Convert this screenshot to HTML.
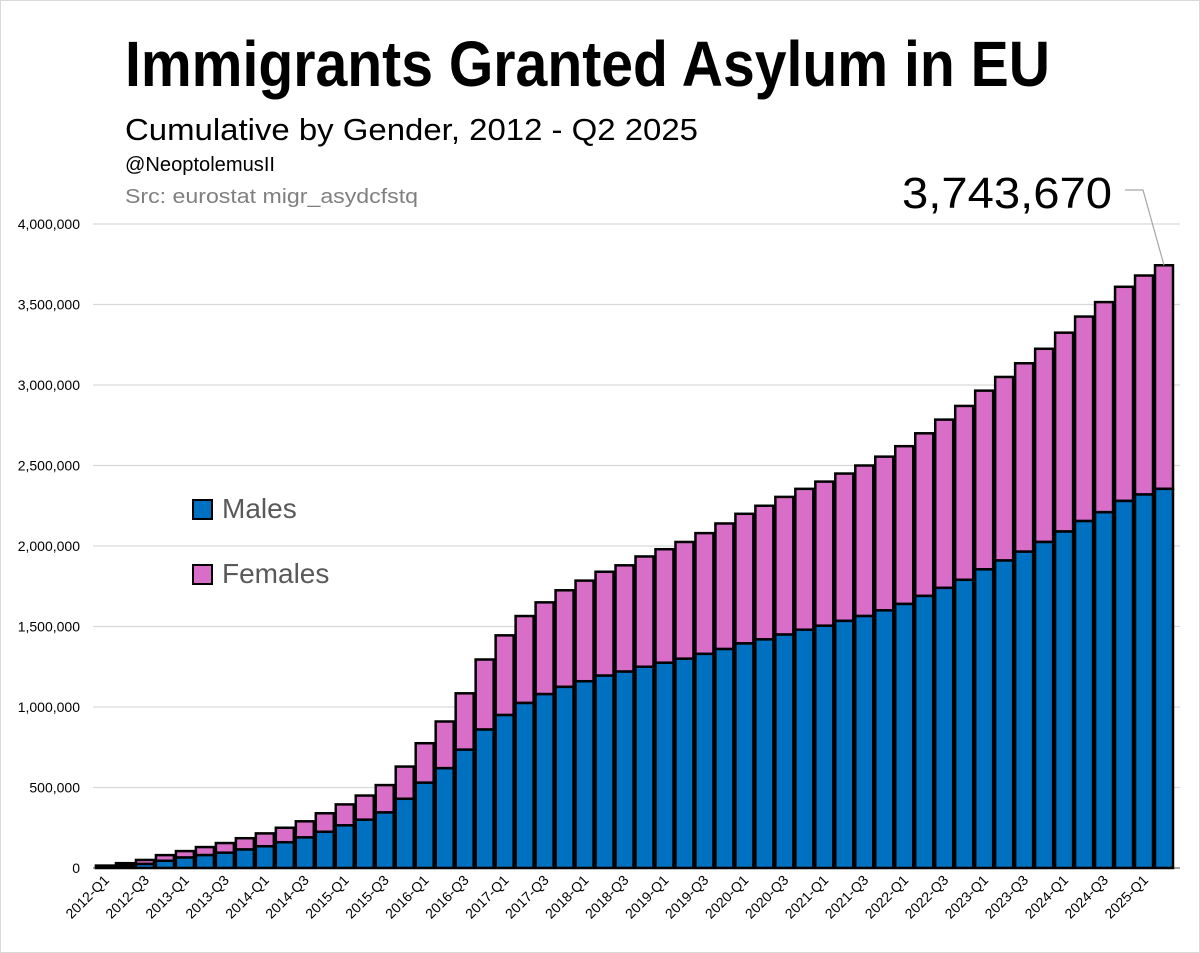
<!DOCTYPE html>
<html><head><meta charset="utf-8">
<style>
html,body{margin:0;padding:0;background:#fff;}
svg{display:block;font-family:"Liberation Sans",sans-serif;}
</style></head>
<body>
<svg id="chart" width="1200" height="953" viewBox="0 0 1200 953">
  <rect x="0.5" y="0.5" width="1199" height="952" fill="#fff" stroke="#d9d9d9"/>
  <text x="125" y="86" font-size="64" font-weight="bold" fill="#000" textLength="925" lengthAdjust="spacingAndGlyphs">Immigrants Granted Asylum in EU</text>
  <text x="125" y="140" font-size="31" fill="#000" textLength="573" lengthAdjust="spacingAndGlyphs">Cumulative by Gender, 2012 - Q2 2025</text>
  <text x="125" y="171" font-size="20" fill="#000" textLength="150" lengthAdjust="spacingAndGlyphs">@NeoptolemusII</text>
  <text x="125" y="203" font-size="20" fill="#808080" textLength="293" lengthAdjust="spacingAndGlyphs">Src: eurostat migr_asydcfstq</text>
  <g id="grid"></g>
  <g id="bars"></g>
  <g id="xlabels"></g>
  <g id="ylabels"></g>
  <text id="total-label" x="1112" y="208" font-size="44" fill="#000" text-anchor="end" textLength="210" lengthAdjust="spacingAndGlyphs">3,743,670</text>
  <g>
    <rect x="193" y="500" width="19" height="19" fill="#0070c0" stroke="#000" stroke-width="2"/>
    <text x="222" y="518" font-size="28" fill="#595959">Males</text>
    <rect x="193" y="565" width="19" height="19" fill="#d86ec8" stroke="#000" stroke-width="2"/>
    <text x="222" y="583" font-size="28" fill="#595959">Females</text>
  </g>
</svg>
<script>
const categories = ["2012-Q1","2012-Q2","2012-Q3","2012-Q4","2013-Q1","2013-Q2","2013-Q3","2013-Q4","2014-Q1","2014-Q2","2014-Q3","2014-Q4","2015-Q1","2015-Q2","2015-Q3","2015-Q4","2016-Q1","2016-Q2","2016-Q3","2016-Q4","2017-Q1","2017-Q2","2017-Q3","2017-Q4","2018-Q1","2018-Q2","2018-Q3","2018-Q4","2019-Q1","2019-Q2","2019-Q3","2019-Q4","2020-Q1","2020-Q2","2020-Q3","2020-Q4","2021-Q1","2021-Q2","2021-Q3","2021-Q4","2022-Q1","2022-Q2","2022-Q3","2022-Q4","2023-Q1","2023-Q2","2023-Q3","2023-Q4","2024-Q1","2024-Q2","2024-Q3","2024-Q4","2025-Q1","2025-Q2"];
const males = [8000,15000,25000,45000,65000,80000,95000,115000,135000,160000,190000,225000,265000,300000,345000,430000,530000,620000,735000,860000,950000,1025000,1080000,1125000,1160000,1195000,1220000,1250000,1275000,1300000,1330000,1360000,1395000,1420000,1450000,1480000,1505000,1535000,1565000,1600000,1640000,1690000,1740000,1790000,1855000,1910000,1965000,2025000,2090000,2155000,2210000,2280000,2320000,2355000];
const totals = [15000,30000,50000,80000,105000,130000,155000,185000,215000,250000,290000,340000,395000,450000,515000,630000,775000,910000,1085000,1295000,1445000,1565000,1650000,1725000,1785000,1840000,1880000,1935000,1980000,2025000,2080000,2140000,2200000,2250000,2305000,2355000,2400000,2450000,2500000,2555000,2620000,2700000,2785000,2870000,2965000,3050000,3135000,3225000,3325000,3425000,3515000,3610000,3680000,3743670];
const yTicks = [0,500000,1000000,1500000,2000000,2500000,3000000,3500000,4000000];

const NS="http://www.w3.org/2000/svg";
const X0=95, X1=1174, Y0=868, YMAX=4000000, YTOP=224;
const step=(X1-X0)/categories.length;
function yScale(v){return Y0-(v/YMAX)*(Y0-YTOP);}
function xScale(i){return X0+i*step;}
function mk(tag,attrs,parent){const e=document.createElementNS(NS,tag);for(const k in attrs)e.setAttribute(k,attrs[k]);parent.appendChild(e);return e;}
const grid=document.getElementById('grid'),bars=document.getElementById('bars'),xl=document.getElementById('xlabels'),yl=document.getElementById('ylabels');
yTicks.forEach(t=>{
  const y=yScale(t);
  const l=mk('line',{x1:93,x2:1180,y1:y,y2:y,stroke:t===0?'#a6a6a6':'#d9d9d9','stroke-width':t===0?2:1.2},grid);
  
  
  const tx=mk('text',{x:80,y:y+5,'font-size':14,'text-anchor':'end',fill:'#000'},yl);
  tx.textContent=t.toLocaleString('en-US');
  
  
});
categories.forEach((c,i)=>{
  const x=xScale(i)+1, w=step-2;
  const ym=yScale(males[i]), yt=yScale(totals[i]);
  const f=mk('rect',{x:x,y:yt,width:w,height:ym-yt,fill:'#d86ec8',stroke:'#000','stroke-width':2.5},bars);
  
  
  const m=mk('rect',{x:x,y:ym,width:w,height:Y0-ym,fill:'#0070c0',stroke:'#000','stroke-width':2.5},bars);
  
  
  if(i%2===0){
    const cx=xScale(i)+step/2+5, cy=Y0+13;
    const t=mk('text',{x:cx,y:cy,'font-size':14,'text-anchor':'end',fill:'#000',transform:`rotate(-45 ${cx} ${cy})`},xl);
    t.textContent=c;
    
    
  }
});
const last=categories.length-1;
const lx=xScale(last)+step/2, ly=yScale(totals[last]);
const ld=mk('polyline',{points:`1125,190 1143,190 ${lx},${ly}`,fill:'none',stroke:'#a6a6a6','stroke-width':1.2},bars);


</script>
</body></html>
